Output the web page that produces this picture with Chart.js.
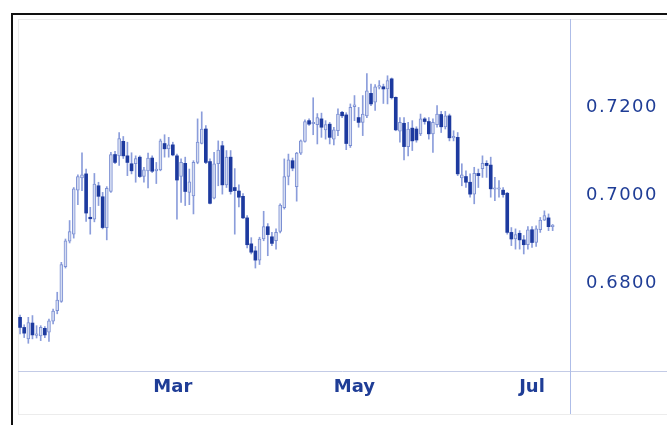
<!DOCTYPE html>
<html>
<head>
<meta charset="utf-8">
<script src="https://cdn.jsdelivr.net/npm/chart.js@4.4.1/dist/chart.umd.min.js"></script>
<style>
  html, body { margin: 0; padding: 0; background: #fff; }
  #wrap { position: relative; width: 667px; height: 425px; overflow: hidden; }
  #frame { position: absolute; left: 11px; top: 13px; width: 700px; height: 450px;
           border-top: 2px solid #111; border-left: 2px solid #111; }
  #panel { position: absolute; left: 18px; top: 19px; width: 700px; height: 396px;
           border: 1px solid #ececec; box-sizing: border-box; }
  canvas { position: absolute; left: 0; top: 0; }
</style>
</head>
<body>
<div id="wrap">
  <div id="frame"></div>
  <div id="panel"></div>
  <canvas id="chart" width="667" height="425"></canvas>
</div>
<script>
// daily candles, one per trading day (index 0 = first candle)
const opens = [
  0.6719, 0.6696, 0.6670, 0.6706, 0.6678, 0.6677, 0.6694, 0.6685, 0.6710, 0.6734,
  0.6755, 0.6834, 0.6892, 0.6908, 0.7008, 0.7036, 0.7045, 0.6945, 0.6942, 0.7018,
  0.6993, 0.6923, 0.7005, 0.7089, 0.7086, 0.7119, 0.7086, 0.7068, 0.7068, 0.7083,
  0.7039, 0.7052, 0.7081, 0.7052, 0.7054, 0.7114, 0.7102, 0.7111, 0.7086, 0.7039,
  0.7069, 0.7003, 0.6995, 0.7071, 0.7114, 0.7147, 0.7073, 0.6990, 0.7068, 0.7109,
  0.7020, 0.7083, 0.7014, 0.7006, 0.6994, 0.6945, 0.6886, 0.6870, 0.6849, 0.6897,
  0.6925, 0.6902, 0.6893, 0.6914, 0.6968, 0.7039, 0.7075, 0.7016, 0.7092, 0.7119,
  0.7166, 0.7159, 0.7157, 0.7170, 0.7145, 0.7158, 0.7124, 0.7143, 0.7185, 0.7179,
  0.7109, 0.7198, 0.7173, 0.7162, 0.7177, 0.7228, 0.7208, 0.7242, 0.7243, 0.7238,
  0.7261, 0.7219, 0.7142, 0.7160, 0.7107, 0.7149, 0.7147, 0.7136, 0.7170, 0.7164,
  0.7136, 0.7157, 0.7180, 0.7152, 0.7177, 0.7127, 0.7128, 0.7036, 0.7039, 0.7026,
  0.6999, 0.7046, 0.7057, 0.7069, 0.7065, 0.7010, 0.7010, 0.7008, 0.7001, 0.6912,
  0.6897, 0.6910, 0.6895, 0.6884, 0.6918, 0.6889, 0.6918, 0.6940, 0.6945, 0.6925
];
const highs = [
  0.6724, 0.6702, 0.6719, 0.6723, 0.6700, 0.6700, 0.6698, 0.6715, 0.6738, 0.6776,
  0.6844, 0.6897, 0.6939, 0.7014, 0.7043, 0.7093, 0.7056, 0.6969, 0.7046, 0.7026,
  0.7003, 0.7016, 0.7094, 0.7096, 0.7139, 0.7130, 0.7117, 0.7093, 0.7086, 0.7086,
  0.7060, 0.7092, 0.7086, 0.7071, 0.7124, 0.7134, 0.7128, 0.7117, 0.7090, 0.7079,
  0.7083, 0.7056, 0.7075, 0.7170, 0.7186, 0.7155, 0.7079, 0.7094, 0.7120, 0.7119,
  0.7098, 0.7098, 0.7057, 0.7020, 0.7000, 0.6950, 0.6900, 0.6880, 0.6901, 0.6960,
  0.6932, 0.6912, 0.6920, 0.6977, 0.7079, 0.7090, 0.7081, 0.7094, 0.7122, 0.7168,
  0.7170, 0.7218, 0.7182, 0.7183, 0.7166, 0.7162, 0.7151, 0.7193, 0.7187, 0.7184,
  0.7204, 0.7223, 0.7196, 0.7223, 0.7273, 0.7249, 0.7248, 0.7257, 0.7249, 0.7268,
  0.7263, 0.7220, 0.7173, 0.7173, 0.7162, 0.7166, 0.7152, 0.7181, 0.7173, 0.7173,
  0.7170, 0.7200, 0.7187, 0.7187, 0.7181, 0.7143, 0.7139, 0.7068, 0.7052, 0.7045,
  0.7060, 0.7056, 0.7086, 0.7075, 0.7083, 0.7037, 0.7030, 0.7014, 0.7003, 0.6923,
  0.6920, 0.6916, 0.6905, 0.6925, 0.6925, 0.6927, 0.6946, 0.6961, 0.6954, 0.6930
];
const lows = [
  0.6681, 0.6673, 0.6660, 0.6670, 0.6672, 0.6666, 0.6673, 0.6664, 0.6704, 0.6727,
  0.6753, 0.6831, 0.6888, 0.6899, 0.6975, 0.7007, 0.6937, 0.6908, 0.6936, 0.6973,
  0.6920, 0.6895, 0.7003, 0.7068, 0.7064, 0.7080, 0.7041, 0.7045, 0.7026, 0.7037,
  0.7026, 0.7013, 0.7048, 0.7023, 0.7052, 0.7083, 0.7083, 0.7086, 0.6942, 0.6980,
  0.6973, 0.6975, 0.6954, 0.7068, 0.7113, 0.7068, 0.6977, 0.6988, 0.7018, 0.6999,
  0.7014, 0.6999, 0.6908, 0.6970, 0.6943, 0.6877, 0.6863, 0.6831, 0.6839, 0.6893,
  0.6859, 0.6882, 0.6874, 0.6911, 0.6965, 0.7020, 0.7052, 0.6983, 0.7089, 0.7117,
  0.7155, 0.7134, 0.7113, 0.7128, 0.7124, 0.7113, 0.7111, 0.7132, 0.7173, 0.7100,
  0.7105, 0.7166, 0.7151, 0.7132, 0.7173, 0.7200, 0.7189, 0.7238, 0.7205, 0.7204,
  0.7215, 0.7143, 0.7117, 0.7077, 0.7086, 0.7098, 0.7117, 0.7132, 0.7158, 0.7124,
  0.7094, 0.7151, 0.7139, 0.7147, 0.7120, 0.7120, 0.7041, 0.7018, 0.7014, 0.6992,
  0.6977, 0.7014, 0.7037, 0.7037, 0.6992, 0.6984, 0.6992, 0.6992, 0.6908, 0.6882,
  0.6874, 0.6874, 0.6863, 0.6874, 0.6878, 0.6880, 0.6912, 0.6939, 0.6916, 0.6916
];
const closes = [
  0.6696, 0.6683, 0.6707, 0.6679, 0.6680, 0.6696, 0.6679, 0.6711, 0.6733, 0.6758,
  0.6839, 0.6893, 0.6914, 0.7011, 0.7039, 0.7043, 0.6956, 0.6943, 0.7022, 0.6994,
  0.6923, 0.7012, 0.7089, 0.7071, 0.7125, 0.7086, 0.7071, 0.7052, 0.7080, 0.7039,
  0.7054, 0.7081, 0.7051, 0.7056, 0.7120, 0.7102, 0.7111, 0.7088, 0.7031, 0.7071,
  0.7005, 0.7027, 0.7071, 0.7117, 0.7147, 0.7071, 0.6978, 0.7068, 0.7099, 0.7020,
  0.7083, 0.7005, 0.7007, 0.6992, 0.6945, 0.6884, 0.6867, 0.6849, 0.6897, 0.6925,
  0.6907, 0.6887, 0.6912, 0.6974, 0.7039, 0.7077, 0.7058, 0.7092, 0.7120, 0.7164,
  0.7158, 0.7161, 0.7173, 0.7151, 0.7157, 0.7128, 0.7145, 0.7181, 0.7177, 0.7114,
  0.7196, 0.7202, 0.7162, 0.7181, 0.7234, 0.7204, 0.7243, 0.7244, 0.7238, 0.7257,
  0.7218, 0.7145, 0.7162, 0.7107, 0.7147, 0.7120, 0.7122, 0.7170, 0.7164, 0.7136,
  0.7162, 0.7181, 0.7152, 0.7177, 0.7127, 0.7128, 0.7045, 0.7043, 0.7026, 0.6999,
  0.7046, 0.7041, 0.7069, 0.7064, 0.7011, 0.7011, 0.7011, 0.6998, 0.6912, 0.6897,
  0.6907, 0.6895, 0.6884, 0.6918, 0.6889, 0.6920, 0.6940, 0.6950, 0.6925, 0.6927
];
// first trading day of each labelled month (candle index)
const monthTicks = [37, 81, 124];
const monthLabels = ['Mar', 'May', 'Jul'];
const priceTicks = [0.68, 0.70, 0.72];

const textColor = '#1f3d96';
const upFill = '#d6ddf2';
const upLine = '#7b8fd3';
const downFill = '#1d3a9f';
const wickColor = 'rgba(110,132,210,0.8)';

const bodies = opens.map((o, i) => ({ x: i, y: [o, closes[i]] }));
const wicks = opens.map((o, i) => ({ x: i, y: [lows[i], highs[i]] }));
const isUp = ctx => {
  const r = ctx.raw;
  return r && r.y[1] >= r.y[0];
};

// separator lines that run past the plot area, like the reference panel
const panelLines = {
  id: 'panelLines',
  beforeDraw(chart) {
    chart.ctx.letterSpacing = '0px';
  },
  beforeDatasetsDraw(chart) {
    const { ctx, chartArea } = chart;
    ctx.save();
    ctx.strokeStyle = '#c3cbe6';
    ctx.lineWidth = 1;
    ctx.beginPath();
    ctx.moveTo(18, Math.round(chartArea.bottom) + 0.5);
    ctx.lineTo(chart.width, Math.round(chartArea.bottom) + 0.5);
    ctx.stroke();
    ctx.strokeStyle = '#aebde8';
    ctx.beginPath();
    ctx.moveTo(Math.round(chartArea.right) + 0.5, 19);
    ctx.lineTo(Math.round(chartArea.right) + 0.5, 414);
    ctx.stroke();
    ctx.restore();
  },
  afterDatasetsDraw(chart) {
    // price labels are drawn after this (ticks z: 1), a little spaced out
    chart.ctx.letterSpacing = '1.5px';
  }
};

new Chart(document.getElementById('chart'), {
  type: 'bar',
  data: {
    datasets: [
      {
        data: wicks,
        backgroundColor: wickColor,
        barThickness: 1,
        grouped: false,
        order: 2
      },
      {
        data: bodies,
        backgroundColor: ctx => isUp(ctx) ? upFill : downFill,
        borderColor: ctx => isUp(ctx) ? upLine : downFill,
        borderWidth: ctx => isUp(ctx) ? 1 : 0,
        borderSkipped: false,
        barThickness: 3,
        minBarLength: 1.5,
        grouped: false,
        order: 1
      }
    ]
  },
  options: {
    responsive: false,
    animation: false,
    layout: { padding: { left: 18, top: 19, right: 0, bottom: 11 } },
    plugins: { legend: { display: false }, tooltip: { enabled: false } },
    scales: {
      x: {
        type: 'linear',
        offset: false,
        min: -0.5,
        max: 133.2,
        grid: { display: false, drawTicks: false },
        border: { display: false },
        afterBuildTicks: s => { s.ticks = monthTicks.map(v => ({ value: v })); },
        afterFit: s => { s.height = 43; s.paddingLeft = 0; s.paddingRight = 0; },
        ticks: {
          autoSkip: false,
          maxRotation: 0,
          padding: 6,
          color: textColor,
          font: { family: 'DejaVu Sans', size: 18, weight: 'bold' },
          callback: v => monthLabels[monthTicks.indexOf(v)]
        }
      },
      y: {
        position: 'right',
        min: 0.6597,
        max: 0.7397,
        grid: { display: false, drawTicks: false },
        border: { display: false },
        afterBuildTicks: s => { s.ticks = priceTicks.map(v => ({ value: v })); },
        afterFit: s => { s.width = 97; s.paddingTop = 0; s.paddingBottom = 0; },
        ticks: {
          z: 1,
          padding: 16,
          labelOffset: 2,
          color: textColor,
          font: { family: 'DejaVu Sans', size: 18 },
          callback: v => v.toFixed(4)
        }
      }
    }
  },
  plugins: [panelLines]
});
</script>
</body>
</html>
